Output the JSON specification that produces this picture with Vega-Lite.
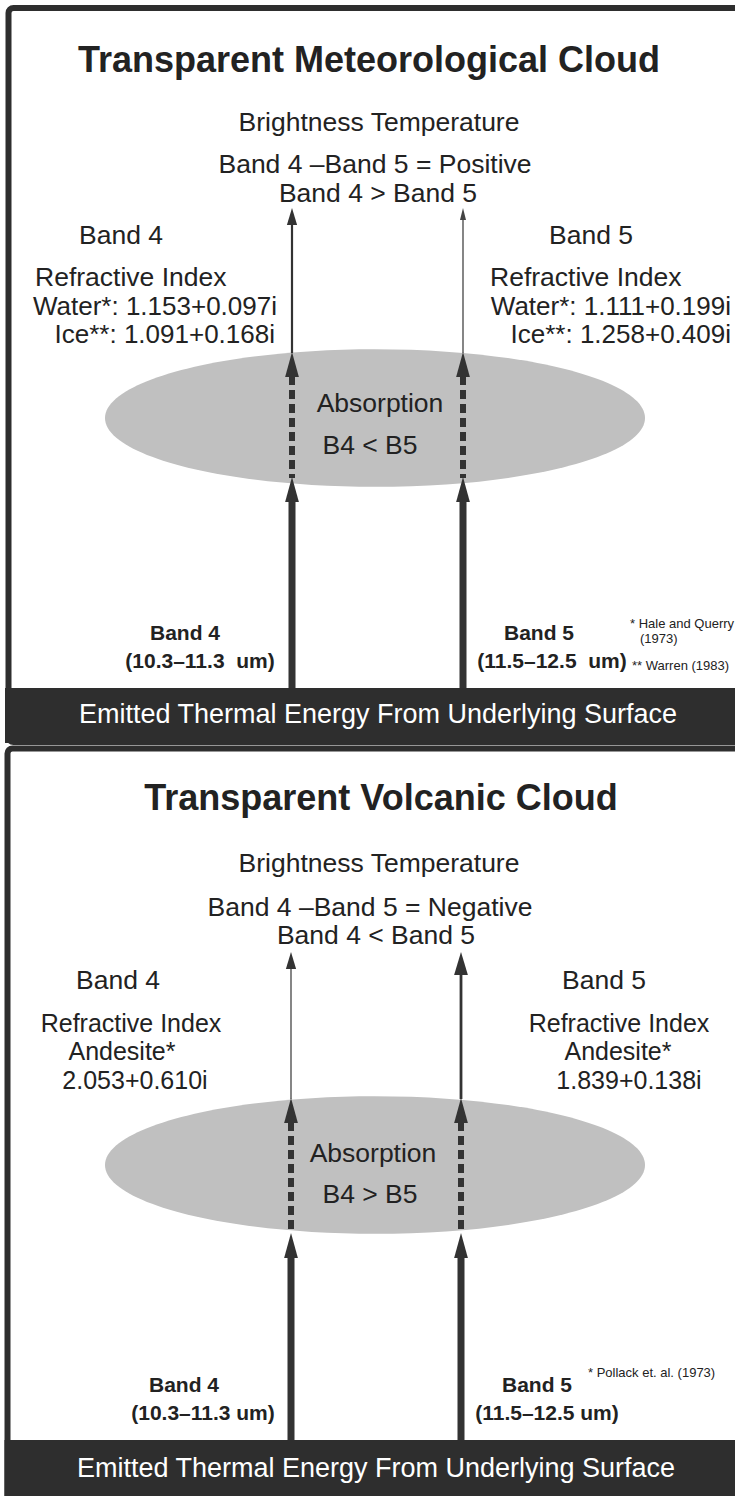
{
  "$schema": "https://vega.github.io/schema/vega-lite/v6.json",
  "width": 735,
  "height": 1496,
  "autosize": {"type": "fit", "contains": "padding"},
  "padding": 0,
  "background": "white",
  "config": {"view": {"stroke": null}, "text": {"font": "Liberation Sans"}},
  "datasets": {
    "panels": [
      {"x": 8.5, "x2": 760, "y": 8, "y2": 742},
      {"x": 7.5, "x2": 760, "y": 748.5, "y2": 1520}
    ],
    "bands": [
      {"x": 5, "x2": 760, "y": 688, "y2": 743},
      {"x": 4.5, "x2": 760, "y": 1440, "y2": 1520}
    ],
    "clouds": [
      {"x": 375, "y": 418},
      {"x": 375, "y": 1165}
    ],
    "shafts": [
      {"x": 292, "y": 224, "y2": 353, "kind": "medium"},
      {"x": 463, "y": 219, "y2": 353, "kind": "hair"},
      {"x": 292, "y": 500, "y2": 688, "kind": "heavy"},
      {"x": 463, "y": 500, "y2": 688, "kind": "heavy"},
      {"x": 291, "y": 968, "y2": 1099, "kind": "hair"},
      {"x": 461, "y": 972, "y2": 1099, "kind": "light"},
      {"x": 291, "y": 1253, "y2": 1440, "kind": "heavy"},
      {"x": 461, "y": 1253, "y2": 1440, "kind": "heavy"}
    ],
    "dashes": [
      {"x": 292, "y": 376, "y2": 478},
      {"x": 463, "y": 376, "y2": 478},
      {"x": 291, "y": 1122, "y2": 1234},
      {"x": 461, "y": 1122, "y2": 1234}
    ],
    "heads": [
      {"x": 292, "y": 208, "kind": "h17"},
      {"x": 463, "y": 208, "kind": "h12"},
      {"x": 292, "y": 352, "kind": "h25"},
      {"x": 463, "y": 352, "kind": "h25"},
      {"x": 292, "y": 477, "kind": "h25"},
      {"x": 463, "y": 477, "kind": "h25"},
      {"x": 291, "y": 952, "kind": "h17"},
      {"x": 461, "y": 952, "kind": "h23"},
      {"x": 291, "y": 1098, "kind": "h25"},
      {"x": 461, "y": 1098, "kind": "h25"},
      {"x": 291, "y": 1233, "kind": "h25"},
      {"x": 461, "y": 1233, "kind": "h25"}
    ],
    "titles": [
      {"x": 369, "y": 72, "text": "Transparent Meteorological Cloud"},
      {"x": 381, "y": 810, "text": "Transparent Volcanic Cloud"}
    ],
    "body": [
      {"x": 379, "y": 131, "text": "Brightness Temperature"},
      {"x": 375, "y": 173, "text": "Band 4 –Band 5 = Positive"},
      {"x": 378, "y": 202, "text": "Band 4 > Band 5"},
      {"x": 121, "y": 244, "text": "Band 4"},
      {"x": 591, "y": 244, "text": "Band 5"},
      {"x": 380, "y": 412, "text": "Absorption"},
      {"x": 370, "y": 454, "text": "B4 < B5"},
      {"x": 379, "y": 872, "text": "Brightness Temperature"},
      {"x": 370, "y": 916, "text": "Band 4 –Band 5 = Negative"},
      {"x": 376, "y": 944, "text": "Band 4 < Band 5"},
      {"x": 118, "y": 989, "text": "Band 4"},
      {"x": 604, "y": 989, "text": "Band 5"},
      {"x": 373, "y": 1162, "text": "Absorption"},
      {"x": 370, "y": 1203, "text": "B4 > B5"}
    ],
    "andesite": [
      {"x": 131, "y": 1032, "text": "Refractive Index"},
      {"x": 122, "y": 1060, "text": "Andesite*"},
      {"x": 135, "y": 1089, "text": "2.053+0.610i"},
      {"x": 619, "y": 1032, "text": "Refractive Index"},
      {"x": 618, "y": 1060, "text": "Andesite*"},
      {"x": 629, "y": 1089, "text": "1.839+0.138i"}
    ],
    "bodyLeft": [
      {"x": 35, "y": 286, "text": "Refractive Index"},
      {"x": 490, "y": 286, "text": "Refractive Index"}
    ],
    "bodyRight": [
      {"x": 277, "y": 315, "text": "Water*: 1.153+0.097i"},
      {"x": 275, "y": 343, "text": "Ice**: 1.091+0.168i"},
      {"x": 731, "y": 315, "text": "Water*: 1.111+0.199i"},
      {"x": 731, "y": 343, "text": "Ice**: 1.258+0.409i"}
    ],
    "boldLabels": [
      {"x": 185, "y": 640, "text": "Band 4"},
      {"x": 200, "y": 668, "text": "(10.3–11.3 \u00a0um)"},
      {"x": 539, "y": 640, "text": "Band 5"},
      {"x": 552, "y": 668, "text": "(11.5–12.5 \u00a0um)"},
      {"x": 184, "y": 1392, "text": "Band 4"},
      {"x": 203, "y": 1420, "text": "(10.3–11.3 um)"},
      {"x": 537, "y": 1392, "text": "Band 5"},
      {"x": 547, "y": 1420, "text": "(11.5–12.5 um)"}
    ],
    "refs": [
      {"x": 630, "y": 628, "text": "* Hale and Querry"},
      {"x": 640, "y": 643, "text": "(1973)"},
      {"x": 632, "y": 670, "text": "** Warren (1983)"},
      {"x": 588, "y": 1377, "text": "* Pollack et. al. (1973)"}
    ],
    "bandText": [
      {"x": 378, "y": 723, "text": "Emitted Thermal Energy From Underlying Surface"},
      {"x": 376, "y": 1477, "text": "Emitted Thermal Energy From Underlying Surface"}
    ]
  },
  "encoding": {
    "x": {"field": "x", "type": "quantitative", "scale": {"domain": [0, 735], "nice": false, "zero": false}, "axis": null},
    "y": {"field": "y", "type": "quantitative", "scale": {"domain": [0, 1496], "nice": false, "zero": false, "reverse": true}, "axis": null}
  },
  "layer": [
    {
      "data": {"name": "panels"},
      "mark": {"type": "rect", "fill": "white", "stroke": "#2e2e2e", "strokeWidth": 6, "cornerRadius": 5, "clip": true},
      "encoding": {"x2": {"field": "x2"}, "y2": {"field": "y2"}}
    },
    {
      "data": {"name": "bands"},
      "mark": {"type": "rect", "fill": "#2e2e2e", "strokeWidth": 0, "clip": true},
      "encoding": {"x2": {"field": "x2"}, "y2": {"field": "y2"}}
    },
    {
      "data": {"name": "clouds"},
      "mark": {"type": "point", "shape": "M-1,0A1,0.255,0,0,1,1,0A1,0.255,0,0,1,-1,0Z", "size": 291600, "filled": true, "fill": "#c0c0c0", "opacity": 1, "strokeWidth": 0, "clip": true}
    },
    {
      "data": {"name": "shafts"},
      "transform": [{"filter": "datum.kind === 'heavy'"}],
      "mark": {"type": "rule", "color": "#333333", "strokeWidth": 7, "clip": true},
      "encoding": {"y2": {"field": "y2"}}
    },
    {
      "data": {"name": "shafts"},
      "transform": [{"filter": "datum.kind === 'medium'"}],
      "mark": {"type": "rule", "color": "#333333", "strokeWidth": 2.2, "clip": true},
      "encoding": {"y2": {"field": "y2"}}
    },
    {
      "data": {"name": "shafts"},
      "transform": [{"filter": "datum.kind === 'light'"}],
      "mark": {"type": "rule", "color": "#333333", "strokeWidth": 2.8, "clip": true},
      "encoding": {"y2": {"field": "y2"}}
    },
    {
      "data": {"name": "shafts"},
      "transform": [{"filter": "datum.kind === 'hair'"}],
      "mark": {"type": "rule", "color": "#444444", "strokeWidth": 1.3, "clip": true},
      "encoding": {"y2": {"field": "y2"}}
    },
    {
      "data": {"name": "dashes"},
      "mark": {"type": "rule", "color": "#333333", "strokeWidth": 6, "strokeDash": [9, 5], "clip": true},
      "encoding": {"y2": {"field": "y2"}}
    },
    {
      "data": {"name": "heads"},
      "transform": [{"filter": "datum.kind === 'h25'"}],
      "mark": {"type": "point", "shape": "M0,0L0.55,2L-0.55,2Z", "size": 625, "filled": true, "color": "#333333", "opacity": 1, "strokeWidth": 0, "clip": true}
    },
    {
      "data": {"name": "heads"},
      "transform": [{"filter": "datum.kind === 'h23'"}],
      "mark": {"type": "point", "shape": "M0,0L0.6,2L-0.6,2Z", "size": 529, "filled": true, "color": "#333333", "opacity": 1, "strokeWidth": 0, "clip": true}
    },
    {
      "data": {"name": "heads"},
      "transform": [{"filter": "datum.kind === 'h17'"}],
      "mark": {"type": "point", "shape": "M0,0L0.6,2L-0.6,2Z", "size": 289, "filled": true, "color": "#333333", "opacity": 1, "strokeWidth": 0, "clip": true}
    },
    {
      "data": {"name": "heads"},
      "transform": [{"filter": "datum.kind === 'h12'"}],
      "mark": {"type": "point", "shape": "M0,0L0.5,2L-0.5,2Z", "size": 144, "filled": true, "color": "#444444", "opacity": 1, "strokeWidth": 0, "clip": true}
    },
    {
      "data": {"name": "titles"},
      "mark": {"type": "text", "font": "Liberation Sans", "fontSize": 36, "fontWeight": "bold", "color": "#222222", "align": "center", "baseline": "alphabetic", "clip": true},
      "encoding": {"text": {"field": "text"}}
    },
    {
      "data": {"name": "body"},
      "mark": {"type": "text", "font": "Liberation Sans", "fontSize": 26.5, "color": "#222222", "align": "center", "baseline": "alphabetic", "clip": true},
      "encoding": {"text": {"field": "text"}}
    },
    {
      "data": {"name": "andesite"},
      "mark": {"type": "text", "font": "Liberation Sans", "fontSize": 25, "color": "#222222", "align": "center", "baseline": "alphabetic", "clip": true},
      "encoding": {"text": {"field": "text"}}
    },
    {
      "data": {"name": "bodyLeft"},
      "mark": {"type": "text", "font": "Liberation Sans", "fontSize": 26.5, "color": "#222222", "align": "left", "baseline": "alphabetic", "clip": true},
      "encoding": {"text": {"field": "text"}}
    },
    {
      "data": {"name": "bodyRight"},
      "mark": {"type": "text", "font": "Liberation Sans", "fontSize": 26, "color": "#222222", "align": "right", "baseline": "alphabetic", "clip": true},
      "encoding": {"text": {"field": "text"}}
    },
    {
      "data": {"name": "boldLabels"},
      "mark": {"type": "text", "font": "Liberation Sans", "fontSize": 21, "fontWeight": "bold", "color": "#222222", "align": "center", "baseline": "alphabetic", "clip": true},
      "encoding": {"text": {"field": "text"}}
    },
    {
      "data": {"name": "refs"},
      "mark": {"type": "text", "font": "Liberation Sans", "fontSize": 13, "color": "#222222", "align": "left", "baseline": "alphabetic", "clip": true},
      "encoding": {"text": {"field": "text"}}
    },
    {
      "data": {"name": "bandText"},
      "mark": {"type": "text", "font": "Liberation Sans", "fontSize": 27, "color": "#ffffff", "align": "center", "baseline": "alphabetic", "clip": true},
      "encoding": {"text": {"field": "text"}}
    }
  ]
}
